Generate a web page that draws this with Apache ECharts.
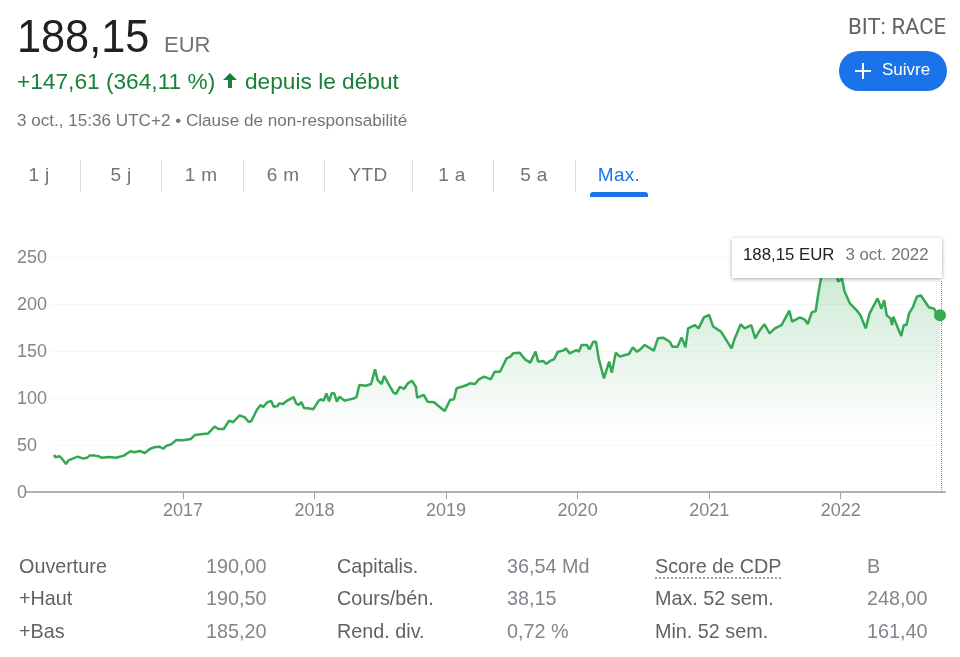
<!DOCTYPE html>
<html lang="fr">
<head>
<meta charset="utf-8">
<title>BIT: RACE</title>
<script src="https://cdn.jsdelivr.net/npm/echarts@6/dist/echarts.min.js"></script>
<style>
    html, body { margin: 0; padding: 0; background: #fff; }
    body { width: 960px; height: 657px; position: relative; overflow: hidden; font-family: "Liberation Sans", Arial, sans-serif; }
    #main { position: absolute; left: 0; top: 0; width: 960px; height: 657px; }
    .t { position: absolute; white-space: nowrap; line-height: 1; }
    .sep { position: absolute; top: 160px; width: 1px; height: 32px; background: #dadce0; }
    .tab { position: absolute; top: 166px; font-size: 19px; line-height: 18px; color: #70757a; transform: translateX(-50%); white-space: nowrap; letter-spacing: .3px; }
</style>
</head>
<body>
<div id="main"></div>

<div class="t" style="left:17px;top:13px;font-size:46px;color:#202124;transform:scaleX(.94);transform-origin:left top;">188,15</div>
<div class="t" style="left:164px;top:34px;font-size:22px;color:#70757a;">EUR</div>
<div class="t" style="left:17px;top:70px;font-size:22.7px;color:#188038;">+147,61 (364,11 %)</div>
<svg style="position:absolute;left:222px;top:73px;" width="16" height="16" viewBox="0 0 16 16"><path d="M8 0 L15 7 L10 7 L10 15 L6 15 L6 7 L1 7 Z" fill="#188038"/></svg>
<div class="t" style="left:245px;top:70px;font-size:22.7px;color:#188038;">depuis le début</div>
<div class="t" style="left:17px;top:112px;font-size:17.1px;color:#70757a;">3 oct., 15:36 UTC+2 • Clause de non-responsabilité</div>

<div class="t" style="right:14px;top:16px;font-size:22px;color:#5f6368;font-family:Roboto;">BIT: RACE</div>
<div style="position:absolute;left:839px;top:51px;width:108px;height:40px;border-radius:20px;background:#1a73e8;"></div>
<svg style="position:absolute;left:855px;top:63px;" width="16" height="16" viewBox="0 0 16 16"><path d="M8 0 V16 M0 8 H16" stroke="#fff" stroke-width="2"/></svg>
<div class="t" style="left:882px;top:61px;font-size:17px;color:#fff;">Suivre</div>

<div id="tabs"></div>
<div style="position:absolute;left:590px;top:192px;width:58px;height:5px;background:#1a73e8;border-radius:3px 3px 0 0;"></div>
<div id="stats"></div>

<script>
// cours (annee decimale / EUR)
var years = [
    2016.02, 2016.03, 2016.06, 2016.08, 2016.11, 2016.13, 2016.17, 2016.20, 2016.24, 2016.27, 2016.29, 2016.33, 2016.36, 2016.38, 2016.44, 2016.49,
    2016.55, 2016.60, 2016.63, 2016.67, 2016.71, 2016.75, 2016.79, 2016.82, 2016.85, 2016.87, 2016.91, 2016.95, 2017.00, 2017.06, 2017.09, 2017.17,
    2017.19, 2017.24, 2017.27, 2017.31, 2017.35, 2017.38, 2017.43, 2017.47, 2017.50, 2017.52, 2017.56, 2017.59, 2017.61, 2017.64, 2017.67, 2017.69,
    2017.72, 2017.73, 2017.76, 2017.79, 2017.84, 2017.86, 2017.88, 2017.90, 2017.92, 2017.95, 2017.99, 2018.01, 2018.03,
    2018.05, 2018.07, 2018.09, 2018.11, 2018.13, 2018.15, 2018.17, 2018.19, 2018.23, 2018.30, 2018.32, 2018.34, 2018.39, 2018.43, 2018.46, 2018.48,
    2018.51, 2018.53, 2018.56, 2018.60, 2018.62, 2018.65, 2018.68, 2018.71, 2018.74, 2018.77, 2018.78, 2018.83, 2018.86, 2018.91, 2018.94, 2018.99,
    2019.03, 2019.06, 2019.08, 2019.12, 2019.16, 2019.18, 2019.22, 2019.25, 2019.29, 2019.34, 2019.37, 2019.41, 2019.46, 2019.49, 2019.51, 2019.56,
    2019.60, 2019.64, 2019.68, 2019.70, 2019.74, 2019.76, 2019.79, 2019.82, 2019.85, 2019.89, 2019.91, 2019.94, 2019.99, 2020.01, 2020.03, 2020.07,
    2020.09, 2020.12, 2020.14, 2020.16, 2020.20, 2020.24, 2020.26, 2020.29, 2020.32, 2020.36, 2020.39, 2020.42, 2020.45,
    2020.47, 2020.51, 2020.54, 2020.58, 2020.61, 2020.65, 2020.70, 2020.72, 2020.76, 2020.79, 2020.82, 2020.84, 2020.89, 2020.92, 2020.96, 2021.00,
    2021.03, 2021.09, 2021.17, 2021.19, 2021.24, 2021.27, 2021.32, 2021.35, 2021.36, 2021.38, 2021.42, 2021.46, 2021.50, 2021.55, 2021.61, 2021.63,
    2021.69, 2021.73, 2021.75, 2021.78, 2021.81, 2021.83, 2021.85, 2021.88, 2021.93, 2021.97, 2021.98, 2022.01, 2022.03, 2022.07, 2022.12, 2022.15,
    2022.19, 2022.22, 2022.28, 2022.31, 2022.33, 2022.35, 2022.38, 2022.39, 2022.40, 2022.46, 2022.48, 2022.50, 2022.52, 2022.55, 2022.58, 2022.61,
    2022.67, 2022.71, 2022.73, 2022.755
];
var prices = [
    39.4, 36.9, 38, 35.5, 29.8, 33.7, 36, 37.6, 35.5, 36.5, 38.7, 38.7, 38, 36.5, 37.2, 36.5,
    38.7, 43.3, 42.2, 43.7, 41.5, 46, 47.9, 48.2, 46, 48.9, 50.7, 55.3, 55, 56.4, 60.6, 62,
    62, 69.5, 67, 67, 75.9, 74.2, 81.6, 79.4, 74.5, 75.5, 87, 92.5, 90.4, 95.4, 97, 90.8,
    91.5, 94.3, 93.6, 97, 101, 94.3, 92.5, 95.7, 89.4, 89, 88, 92.5, 97,
    98.6, 97.2, 105, 96.5, 105, 105, 96.1, 101.4, 97.2, 99.6, 101.4, 113.8, 113, 114.9, 130.5, 119,
    114.9, 123.4, 115.6, 105.7, 104.3, 112, 109.6, 115.6, 118.4, 112, 100.4, 103.2, 96.1, 95.4, 91.8, 86.2,
    97.9, 98.6, 110.3, 112, 113.8, 115.6, 114.9, 119.9, 122.7, 119.9, 128, 128, 142.2, 144, 147.5, 148.2,
    141.1, 137.6, 149.3, 138.7, 139.4, 136.2, 139.4, 141.1, 149.3, 150.4, 152.8, 147.5, 151, 149.3, 156.4, 156.4,
    151.8, 159.9, 159.9, 142.2, 120.9, 138.7, 127, 148.2, 144, 145.7, 146.8, 153.9, 149.3,
    151, 156.4, 153.9, 150.4, 163.5, 164.2, 159.9, 154.6, 154.6, 164.5, 153.9, 174.1, 177.6, 174.1, 185.8, 188.3,
    176, 170.6, 152.8, 161.7, 178.4, 174.1, 177.6, 163.5, 162.4, 171, 178.4, 168.8, 174.1, 177.6, 192.9, 181.2,
    185.8, 183, 178.7, 191.1, 192.5, 211.3, 227, 240, 248, 232, 223.8, 227, 213, 200.7, 193.6, 188,
    174.1, 190, 206, 195, 204, 188, 184.4, 177.6, 186.5, 166, 177.6, 177.6, 190, 197, 208, 209,
    196.5, 195, 190, 188.15
];
var yearTicks = [2017, 2018, 2019, 2020, 2021, 2022];
var tabLabels = ['1 j', '5 j', '1 m', '6 m', 'YTD', '1 a', '5 a', 'Max.'];
var tabCenters = [39, 121, 201, 283, 368, 452, 534, 619];
var tabSeps = [80, 161, 243, 324, 412, 493, 575];
var statLabels1 = ['Ouverture', '+Haut', '+Bas'];
var statValues1 = ['190,00', '190,50', '185,20'];
var statLabels2 = ['Capitalis.', 'Cours/bén.', 'Rend. div.'];
var statValues2 = ['36,54 Md', '38,15', '0,72 %'];
var statLabels3 = ['Score de CDP', 'Max. 52 sem.', 'Min. 52 sem.'];
var statValues3 = ['B', '248,00', '161,40'];

var GREEN = '#34a853';
var lastIdx = years.length - 1;

// onglets de periode
var tabsHtml = '';
tabLabels.forEach(function (l, i) {
    var col = l === 'Max.' ? 'color:#1a73e8;' : '';
    tabsHtml += '<div class="tab" style="left:' + tabCenters[i] + 'px;' + col + '">' + l + '</div>';
});
tabSeps.forEach(function (x) {
    tabsHtml += '<div class="sep" style="left:' + x + 'px"></div>';
});
document.getElementById('tabs').innerHTML = tabsHtml;

// tableau du bas
function statCol(list, x, color, dotted) {
    var html = '';
    var rows = [557, 589, 622];
    list.forEach(function (s, i) {
        var deco = dotted && i === 0 ? 'border-bottom:2px dotted #9aa0a6;' : '';
        html += '<div class="t" style="left:' + x + 'px;top:' + rows[i] + 'px;font-size:19.8px;color:' + color + ';' + deco + '">' + s + '</div>';
    });
    return html;
}
document.getElementById('stats').innerHTML =
    statCol(statLabels1, 19, '#5f6368') + statCol(statValues1, 206, '#80868b') +
    statCol(statLabels2, 337, '#5f6368') + statCol(statValues2, 507, '#80868b') +
    statCol(statLabels3, 655, '#5f6368', true) + statCol(statValues3, 867, '#80868b');

var myChart = echarts.init(document.getElementById('main'));
var seriesData = years.map(function (y, i) { return [y, prices[i]]; });

var option = {
    animation: false,
    grid: { left: 27, right: 15, top: 257, bottom: 165 },
    tooltip: {
        trigger: 'item',
        triggerOn: 'none',
        alwaysShowContent: true,
        transitionDuration: 0,
        position: [732, 238],
        padding: 0,
        borderWidth: 0,
        backgroundColor: '#fff',
        extraCssText: 'border-radius:0;box-shadow:0 1px 4px rgba(0,0,0,.35);',
        formatter: function () {
            return '<div style="width:210px;height:40px;line-height:34px;box-sizing:border-box;padding-left:11px;font-family:Liberation Sans;font-size:16.8px;white-space:nowrap;">' +
                '<span style="color:#202124;">188,15 EUR</span>' +
                '<span style="color:#70757a;margin-left:11px;">3 oct. 2022</span></div>';
        }
    },
    xAxis: {
        type: 'value',
        min: 2015.814,
        max: 2022.793,
        splitLine: { show: false },
        axisLine: { show: true, lineStyle: { color: '#b0b0b0', width: 2 } },
        axisTick: { show: true, length: 7, lineStyle: { color: '#a0a0a0', width: 1 }, customValues: yearTicks },
        axisLabel: {
            customValues: yearTicks,
            margin: 10,
            fontFamily: 'Liberation Sans',
            fontSize: 18,
            color: '#80868b',
            formatter: function (v) { return String(v); }
        }
    },
    yAxis: {
        type: 'value',
        min: 0,
        max: 250,
        interval: 50,
        axisLine: { show: false },
        axisTick: { show: false },
        splitLine: { lineStyle: { color: '#f7f7f7', width: 1 } },
        axisLabel: {
            align: 'left',
            margin: 10,
            formatter: function (v) { return v === 0 ? '{z|0}' : '{b|' + v + '}'; },
            rich: {
                z: { fontFamily: 'Liberation Sans', fontSize: 18, color: '#80868b', padding: [2, 0, 0, 0] },
                b: { fontFamily: 'Liberation Sans', fontSize: 18, color: '#80868b', width: 33, align: 'left', backgroundColor: '#fff', padding: [2, 0, 0, 0] }
            }
        }
    },
    series: [{
        type: 'line',
        data: seriesData,
        // seul le dernier point a un symbole
        showAllSymbol: true,
        symbol: function (v, params) { return params.dataIndex === lastIdx ? 'circle' : 'none'; },
        symbolSize: 12,
        smooth: false,
        lineStyle: { color: GREEN, width: 2.5 },
        itemStyle: { color: GREEN },
        areaStyle: {
            color: new echarts.graphic.LinearGradient(0, 0, 0, 1, [
                { offset: 0, color: 'rgba(52,168,83,0.38)' },
                { offset: 0.75, color: 'rgba(52,168,83,0)' },
                { offset: 1, color: 'rgba(52,168,83,0)' }
            ])
        },
        markLine: {
            symbol: 'none',
            silent: true,
            label: { show: false },
            lineStyle: { color: '#80868b', type: 'dotted', width: 1 },
            data: [[{ coord: [2022.767, 0] }, { coord: [2022.767, 225] }]]
        }
    }]
};
myChart.setOption(option);
myChart.dispatchAction({ type: 'showTip', seriesIndex: 0, dataIndex: lastIdx });
</script>
</body>
</html>
